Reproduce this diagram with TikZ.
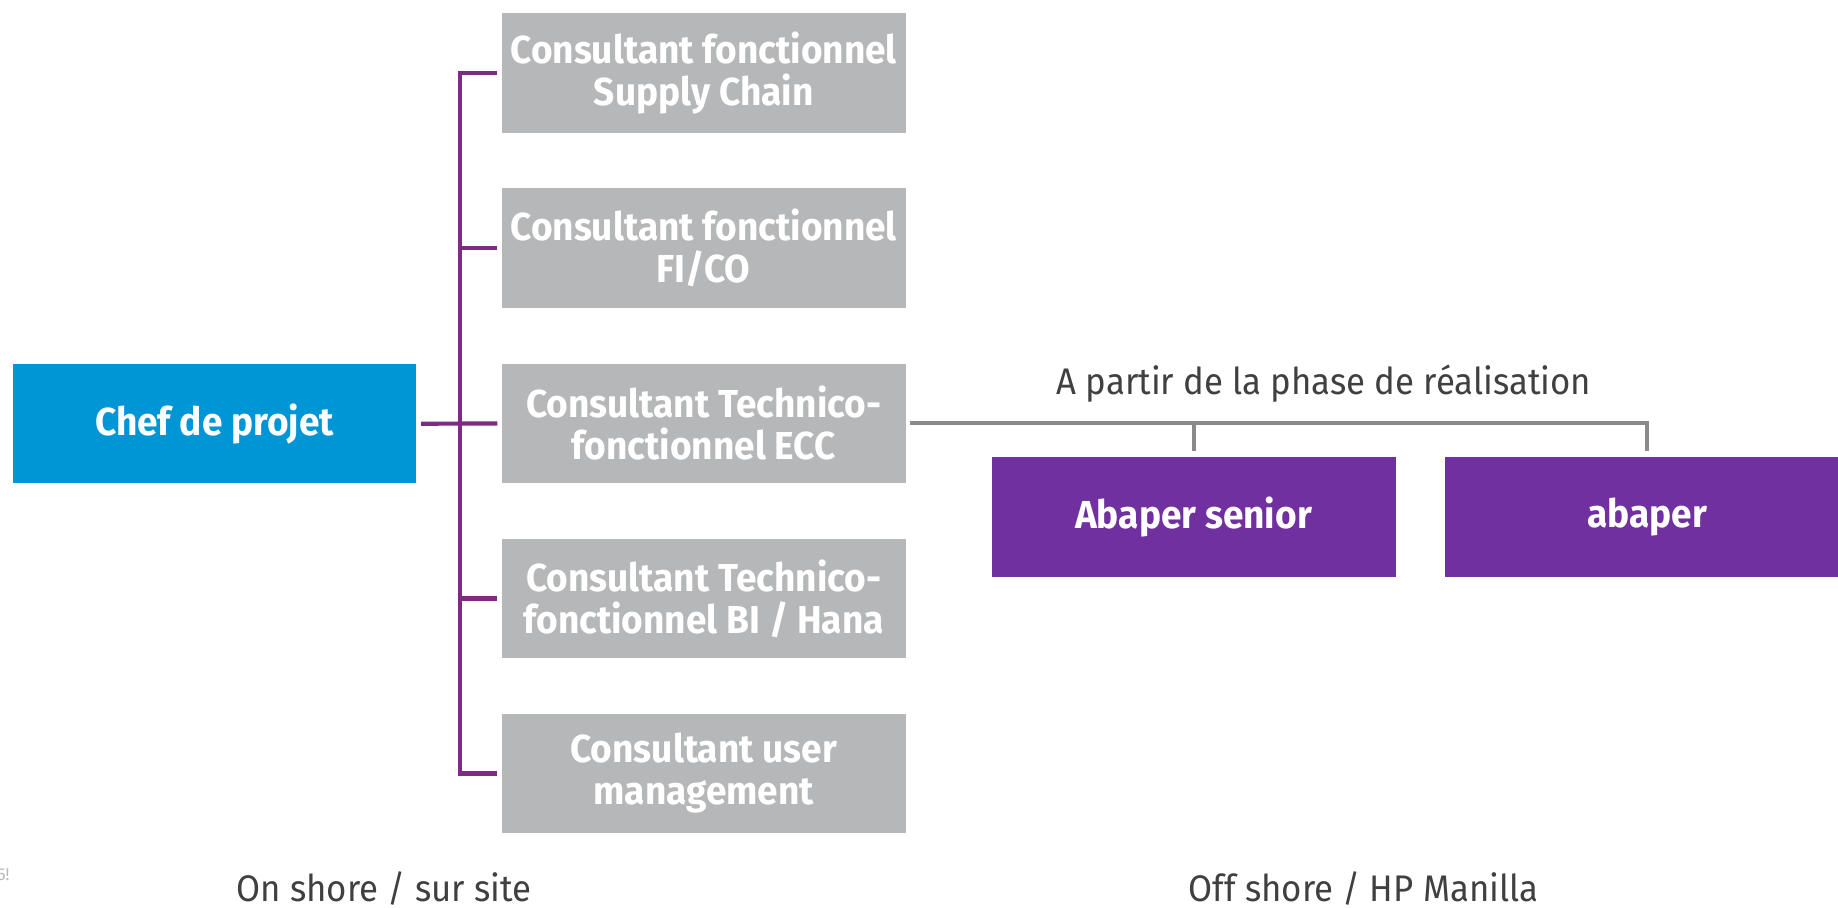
\documentclass[tikz,border=0pt]{standalone}
\usepackage{fontspec}
\setmainfont{Fira Sans}
\newfontfamily\boxfont[FakeStretch=0.95]{Fira Sans}
\newfontfamily\labfont[FakeStretch=0.94]{Fira Sans}
\definecolor{boxgray}{HTML}{B6B7B9}
\definecolor{hpblue}{HTML}{0096D6}
\definecolor{boxpurple}{HTML}{7030A0}
\definecolor{linepurple}{HTML}{7F2A84}
\definecolor{linegray}{HTML}{8A8A8A}
\definecolor{labgray}{HTML}{404040}
\tikzset{
  basebox/.style={minimum width=202pt, minimum height=59.75pt, inner sep=0pt, align=center, text=white,
    font=\boxfont\bfseries\fontsize{19.5}{21}\selectfont},
  graybox/.style={basebox, fill=boxgray},
  bluebox/.style={basebox, fill=hpblue, minimum width=201.5pt},
  purplebox/.style={basebox, fill=boxpurple},
  pline/.style={draw=linepurple, line width=2.1pt},
  gline/.style={draw=linegray, line width=2pt},
  lab/.style={anchor=base, inner sep=0pt, text=labgray, font=\labfont\fontsize{18.5}{20}\selectfont}
}
\begin{document}
\begin{tikzpicture}[x=0.5pt,y=-0.5pt]
\useasboundingbox (0,0) rectangle (1838,908);
\clip (0,0) rectangle (1838,908);
\node[bluebox] (chef) at (214.5,423.7) {Chef de projet};
\node[graybox] (g1) at (703.7,73) {Consultant fonctionnel\\Supply Chain};
\node[graybox] (g2) at (703.7,248) {Consultant fonctionnel\\FI/CO};
\node[graybox] (g3) at (703.7,423.5) {Consultant Technico-\\fonctionnel ECC};
\node[graybox] (g4) at (703.7,598.5) {Consultant Technico-\\fonctionnel BI / Hana};
\node[graybox] (g5) at (703.7,773.5) {Consultant user\\management};
\node[purplebox] (abs) at (1193.5,517) {Abaper senior};
\node[purplebox] (abp) at (1647.3,517) {abaper};
\coordinate (bus) at (460,423.5);
\draw[pline] ([xshift=-2pt]g1.west) -| (bus) |- ([xshift=-2pt]g5.west);
\draw[pline] ([xshift=2.3pt]chef.east) -- ([xshift=-2pt]g3.west);
\draw[pline] (bus |- g2.west) -- ([xshift=-2pt]g2.west);
\draw[pline] (bus |- g4.west) -- ([xshift=-2pt]g4.west);
\draw[gline] ([xshift=1.8pt]g3.east) -| ([yshift=2.8pt]abp.north);
\draw[gline] (abs.north |- g3.east) -- ([yshift=2.8pt]abs.north);
\node[lab] (phase) at (1324,395) {A partir de la phase de réalisation};
\node[lab] (on) at (384,901) {On shore / sur site};
\node[lab] (off) at (1363.5,901) {Off shore / HP Manilla};
\node[anchor=base east, inner sep=0pt, text=black!28, font=\labfont\fontsize{8.5}{9}\selectfont] (pg) at (10,880) {5!};
\end{tikzpicture}
\end{document}
